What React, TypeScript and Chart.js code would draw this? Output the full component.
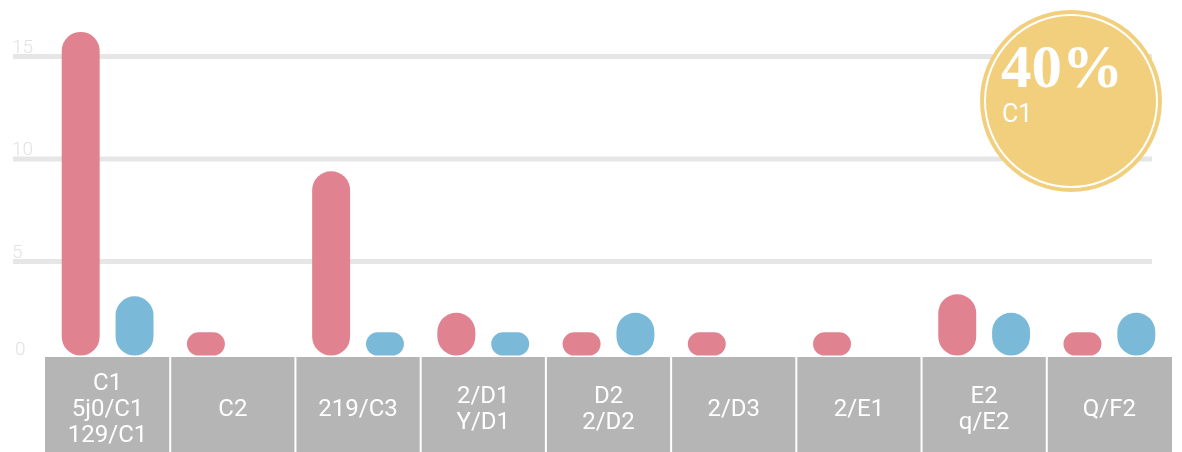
import React, { useEffect, useRef } from "react";
import { Chart, registerables } from "chart.js";

Chart.register(...registerables);

const categories: string[][] = [
  ["C1", "5j0/C1", "129/C1"],
  ["C2"],
  ["219/C3"],
  ["2/D1", "Y/D1"],
  ["D2", "2/D2"],
  ["2/D3"],
  ["2/E1"],
  ["E2", "q/E2"],
  ["Q/F2"],
];
const seriesPink: (number | null)[] = [16.2, 1.55, 9.4, 2.5, 1.55, 1.55, 1.55, 3.4, 1.55];
const seriesBlue: (number | null)[] = [3.3, null, 1.55, 1.55, 2.5, null, null, 2.5, 2.5];
const yTicks: number[] = [0, 5, 10, 15];
const badgeValue = "40%";
const badgeLabel = "C1";

const PINK = "#e08290";
const BLUE = "#7abad8";
const CELL = "#b5b5b5";
const GRID = "#e6e6e6";
const GOLD = "#f1cf7d";

const decorPlugin = {
  id: "decor",
  beforeDatasetsDraw(chart: any) {
    const { ctx, scales, chartArea } = chart;
    const y = scales.y;
    ctx.save();
    ctx.strokeStyle = GRID;
    ctx.lineWidth = 5;
    for (const t of yTicks) {
      if (t === 0) continue;
      const py = y.getPixelForValue(t);
      ctx.beginPath();
      ctx.moveTo(13, py);
      ctx.lineTo(1152, py);
      ctx.stroke();
    }
    ctx.fillStyle = "#e2e2e2";
    ctx.font = "300 19px Roboto";
    ctx.textAlign = "left";
    ctx.textBaseline = "alphabetic";
    for (const t of yTicks) {
      const py = y.getPixelForValue(t);
      const by = Math.min(py - 4, chartArea.bottom - 9);
      ctx.fillText(String(t), t === 0 ? 15 : 12, by);
    }
    ctx.restore();
  },
  afterDatasetsDraw(chart: any) {
    const { ctx, scales, chartArea } = chart;
    const x = scales.x;
    const n = categories.length;
    const w = (chartArea.right - chartArea.left) / n;
    const top = 357;
    const bottom = 452;
    ctx.save();
    ctx.fillStyle = CELL;
    ctx.fillRect(chartArea.left, top, chartArea.right - chartArea.left, bottom - top);
    ctx.strokeStyle = "#ffffff";
    ctx.lineWidth = 2;
    for (let i = 1; i < n; i++) {
      const bx = x.getPixelForValue(i) - w / 2;
      ctx.beginPath();
      ctx.moveTo(bx, top);
      ctx.lineTo(bx, bottom);
      ctx.stroke();
    }
    ctx.fillStyle = "#ffffff";
    ctx.font = "400 24px Roboto";
    ctx.textAlign = "center";
    ctx.textBaseline = "alphabetic";
    const lh = 26;
    const mid = 416;
    categories.forEach((lines, i) => {
      const cx = x.getPixelForValue(i);
      lines.forEach((s, k) => {
        const by = mid + (k - (lines.length - 1) / 2) * lh;
        ctx.fillText(s, cx, by);
      });
    });
    ctx.restore();
  },
  afterDraw(chart: any) {
    const { ctx } = chart;
    const cx = 1071;
    const cy = 101;
    ctx.save();
    ctx.fillStyle = GOLD;
    ctx.beginPath();
    ctx.arc(cx, cy, 91, 0, Math.PI * 2);
    ctx.fill();
    ctx.strokeStyle = "#ffffff";
    ctx.lineWidth = 2;
    ctx.beginPath();
    ctx.arc(cx, cy, 86, 0, Math.PI * 2);
    ctx.stroke();
    ctx.fillStyle = "#ffffff";
    ctx.textAlign = "left";
    ctx.textBaseline = "alphabetic";
    ctx.font = "bold 61px 'Liberation Serif'";
    ctx.fillText(badgeValue, 1001, 87);
    ctx.font = "400 25px Roboto";
    ctx.fillText(badgeLabel, 1002, 122);
    ctx.restore();
  },
};

export default function App() {
  const ref = useRef<HTMLCanvasElement | null>(null);
  useEffect(() => {
    if (!ref.current) return;
    const chart = new Chart(ref.current, {
      type: "bar",
      data: {
        labels: categories.map((c) => c.join(" ")),
        datasets: [
          {
            data: seriesPink,
            backgroundColor: PINK,
            borderRadius: 19,
            borderSkipped: false,
            base: 0.41,
          } as any,
          {
            data: seriesBlue,
            backgroundColor: BLUE,
            borderRadius: 19,
            borderSkipped: false,
            base: 0.41,
          } as any,
        ],
      },
      options: {
        animation: false,
        responsive: false,
        layout: { padding: { top: 15.5, bottom: 88, left: 45, right: 10 } },
        datasets: { bar: { categoryPercentage: 0.86, barPercentage: 0.705 } },
        plugins: { legend: { display: false }, tooltip: { enabled: false } },
        scales: {
          x: { display: false, offset: true },
          y: { display: false, min: 0, max: 17 },
        },
      },
      plugins: [decorPlugin],
    });
    return () => chart.destroy();
  }, []);
  return (
    <div style={{ position: "fixed", left: 0, top: 0, width: 1182, height: 452, background: "#fff" }}>
      <canvas ref={ref} width={1182} height={452} style={{ display: "block" }} />
    </div>
  );
}
